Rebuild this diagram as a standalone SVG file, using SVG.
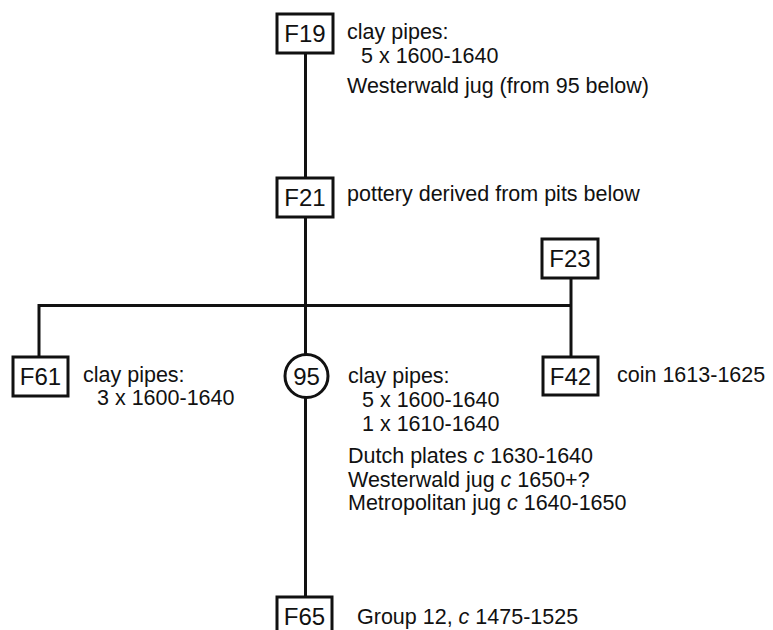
<svg xmlns="http://www.w3.org/2000/svg" width="773" height="630" viewBox="0 0 773 630">
<style>
.box{fill:#fff;stroke:#111;stroke-width:3}
.ln{fill:none;stroke:#111;stroke-width:3}
.lbl{font-family:"Liberation Sans",Arial,sans-serif;font-size:24px;fill:#111;text-anchor:middle}
.t{font-family:"Liberation Sans",Arial,sans-serif;font-size:21.5px;fill:#111}
.i{font-style:italic}
</style>
<rect width="773" height="630" fill="#fff"/>
<g id="connectors">
<line class="ln" x1="305.5" y1="53" x2="305.5" y2="630"/>
<line class="ln" x1="38" y1="305.5" x2="572" y2="305.5"/>
<line class="ln" x1="571" y1="278" x2="571" y2="357"/>
<line class="ln" x1="39" y1="304" x2="39" y2="357"/>
</g>
<g id="F19">
<rect class="box" x="277" y="14" width="56" height="39"/>
<text class="lbl" x="305" y="42">F19</text>
<text class="t" x="347" y="39">clay pipes:</text>
<text class="t" x="361" y="63">5 x 1600-1640</text>
<text class="t" x="347" y="93">Westerwald jug (from 95 below)</text>
</g>
<g id="F21">
<rect class="box" x="277" y="178" width="56" height="39"/>
<text class="lbl" x="305" y="206">F21</text>
<text class="t" x="347" y="201">pottery derived from pits below</text>
</g>
<g id="F23">
<rect class="box" x="542" y="239" width="56" height="39"/>
<text class="lbl" x="570" y="267">F23</text>
</g>
<g id="F61">
<rect class="box" x="13" y="357" width="55" height="39"/>
<text class="lbl" x="40.5" y="385">F61</text>
<text class="t" x="83" y="382">clay pipes:</text>
<text class="t" x="97" y="405">3 x 1600-1640</text>
</g>
<g id="F42">
<rect class="box" x="543" y="357" width="55" height="38"/>
<text class="lbl" x="570.5" y="385">F42</text>
<text class="t" x="617" y="382">coin 1613-1625</text>
</g>
<g id="n95">
<circle class="box" cx="306.5" cy="376" r="21.5"/>
<text class="lbl" x="306.5" y="384.5">95</text>
<text class="t" x="348" y="383">clay pipes:</text>
<text class="t" x="362" y="407">5 x 1600-1640</text>
<text class="t" x="362" y="431">1 x 1610-1640</text>
<text class="t" x="348" y="463">Dutch plates <tspan class="i">c</tspan> 1630-1640</text>
<text class="t" x="348" y="487">Westerwald jug <tspan class="i">c</tspan> 1650+?</text>
<text class="t" x="348" y="510">Metropolitan jug <tspan class="i">c</tspan> 1640-1650</text>
</g>
<g id="F65">
<rect class="box" x="277" y="597" width="55" height="40"/>
<text class="lbl" x="304.5" y="625">F65</text>
<text class="t" x="357" y="624">Group 12, <tspan class="i">c</tspan> 1475-1525</text>
</g>
</svg>
